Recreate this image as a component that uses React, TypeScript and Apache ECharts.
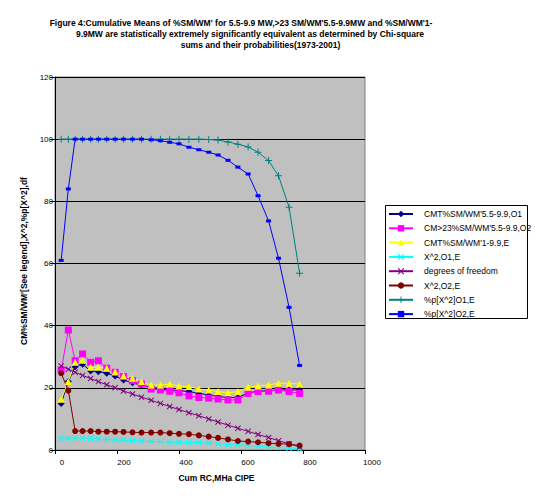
import React, { useEffect, useRef } from "react";
import * as echarts from "echarts";

// Cumulative RC (MHa CIPE) – shared x values
const cumRC = [20, 43, 65, 89, 115, 140, 167, 194, 221, 250, 279, 310, 340, 370, 400, 432, 464, 496, 526, 558, 590, 623, 655, 689, 721, 755, 789];

const cmt55O1 = [15.0, 22.0, 26.8, 27.6, 25.4, 25.2, 24.7, 23.8, 22.5, 21.6, 20.9, 20.1, 19.8, 19.3, 19.1, 18.8, 18.2, 17.7, 17.2, 16.9, 16.9, 18.4, 18.9, 19.1, 19.3, 19.3, 19.3];
const cm23O2 = [25.7, 38.6, 28.7, 30.9, 28.2, 28.7, 26.3, 25.0, 23.6, 22.3, 21.2, 19.6, 19.3, 18.9, 18.4, 17.4, 16.9, 16.7, 16.4, 16.1, 16.1, 18.2, 18.8, 18.9, 19.3, 18.8, 18.2];
const cmt1E = [16.3, 22.0, 28.2, 28.9, 26.6, 26.6, 26.3, 25.2, 23.9, 23.1, 22.0, 20.9, 20.9, 21.2, 20.6, 20.4, 19.6, 19.3, 18.8, 18.4, 18.8, 20.2, 20.6, 20.9, 21.5, 21.5, 21.2];
const chi2O1E = [3.8, 3.9, 3.9, 3.9, 3.8, 3.5, 3.4, 3.2, 3.2, 3.0, 2.9, 2.7, 2.7, 2.5, 2.5, 2.4, 2.4, 2.2, 2.0, 1.7, 1.7, 1.4, 1.3, 0.9, 0.8, 0.6, 0.3];
const degFreedom = [27, 26, 25, 24, 23, 22, 21, 20, 19, 18, 17, 16, 15, 14, 13, 12, 11, 10, 9, 8, 7, 6, 5, 4, 3, 2, 1];
const chi2O2E = [24.7, 19.1, 6.1, 6.1, 6.1, 5.9, 5.9, 5.9, 5.8, 5.7, 5.6, 5.6, 5.6, 5.4, 5.2, 5.1, 4.7, 4.3, 3.9, 3.4, 2.9, 2.7, 2.5, 2.2, 2.0, 1.9, 1.4];
const pChi2O1E = [100, 100, 100, 100, 100, 100, 100, 100, 100, 100, 100, 100, 100, 100, 100, 100, 100, 99.9, 99.7, 99.1, 98.4, 97.5, 95.8, 93.1, 88.2, 78.1, 56.9];
const pChi2O2E = [61, 84, 100, 100, 100, 100, 100, 100, 100, 100, 100, 99.8, 99.5, 99, 98.5, 97.4, 96.6, 95.8, 94.9, 93.2, 91, 88.8, 81.8, 73.7, 61.7, 45.9, 27.2];

const seriesNames = [
  "CMT%SM/WM'5.5-9.9,O1",
  "CM>23%SM/WM'5.5-9.9,O2",
  "CMT%SM/WM'1-9.9,E",
  "X^2,O1,E",
  "degrees of freedom",
  "X^2,O2,E",
  "%p[X^2]O1,E",
  "%p[X^2]O2,E",
];

const titleLines = [
  "Figure 4:Cumulative Means of %SM/WM' for 5.5-9.9 MW,>23 SM/WM'5.5-9.9MW and %SM/WM'1-",
  "9.9MW are statistically extremely significantly equivalent as determined by Chi-square",
  "sums and their probabilities(1973-2001)",
];
const xAxisTitle = "Cum RC,MHa CIPE";
const yAxisTitle = "CM%SM/WM'[See legend],X^2,%p[X^2],df";

const FONT = "'Liberation Sans', Arial, sans-serif";
const X_SYM = "path://M0,1.2L1.2,0L5,3.8L8.8,0L10,1.2L6.2,5L10,8.8L8.8,10L5,6.2L1.2,10L0,8.8L3.8,5Z";
const PLUS_SYM = "path://M4.3,0H5.7V4.3H10V5.7H5.7V10H4.3V5.7H0V4.3H4.3Z";

const seriesValues = [cmt55O1, cm23O2, cmt1E, chi2O1E, degFreedom, chi2O2E, pChi2O1E, pChi2O2E];
const seriesColors = ["#000080", "#FF00FF", "#FFFF00", "#00FFFF", "#800080", "#800000", "#008080", "#0000FF"];
const seriesSymbols: any[] = ["diamond", "rect", "triangle", X_SYM, X_SYM, "circle", PLUS_SYM, "rect"];
const seriesSizes: any[] = [7, 7, 7, 6, 6, 6, 7, [5, 3]];

export default function App() {
  const ref = useRef<HTMLDivElement>(null);
  useEffect(() => {
    if (!ref.current) return;
    const chart = echarts.init(ref.current, undefined, { renderer: "svg" });
    const series = seriesNames.map((name, i) => ({
      name,
      type: "line",
      data: cumRC.map((x, j) => [x, seriesValues[i][j]]),
      symbol: seriesSymbols[i],
      symbolSize: seriesSizes[i],
      showAllSymbol: true,
      lineStyle: { color: seriesColors[i], width: 1 },
      itemStyle: { color: seriesColors[i] },
      emphasis: { disabled: true },
    }));
    chart.setOption({
      animation: false,
      backgroundColor: "#ffffff",
      grid: {
        left: 55,
        top: 77,
        width: 310,
        height: 373,
        show: true,
        backgroundColor: "#C0C0C0",
        borderColor: "#808080",
        borderWidth: 1,
      },
      xAxis: {
        type: "value",
        min: 0,
        max: 1000,
        interval: 200,
        axisLine: { show: true, lineStyle: { color: "#000", width: 1 } },
        axisTick: { show: true, length: 4, lineStyle: { color: "#000" } },
        splitLine: { show: false },
        axisLabel: {
          fontSize: 8,
          fontFamily: FONT,
          color: "#000",
          margin: 8,
          padding: [0, 0, 0, 14],
          formatter: (v: number) => String(v),
        },
      },
      yAxis: {
        type: "value",
        min: 0,
        max: 120,
        interval: 20,
        axisLine: { show: true, lineStyle: { color: "#000", width: 1 } },
        axisTick: { show: true, length: 5, lineStyle: { color: "#000" } },
        splitLine: { show: true, lineStyle: { color: "#000", width: 1 } },
        axisLabel: { fontSize: 8, fontFamily: FONT, color: "#000", margin: 2, formatter: (v: number) => String(v) },
      },
      legend: {
        orient: "vertical",
        left: 388,
        top: 209,
        itemWidth: 24,
        itemHeight: 8,
        itemGap: 4.3,
        padding: 0,
        data: seriesNames,
        textStyle: { fontSize: 8.5, fontFamily: FONT, color: "#000", lineHeight: 10, padding: [0, 0, 0, 6] },
      },
      graphic: [
        {
          type: "rect",
          shape: { x: 385.5, y: 205.5, width: 142, height: 113 },
          style: { fill: "none", stroke: "#000", lineWidth: 1 },
          silent: true,
        },
        ...titleLines.map((t, i) => ({
          type: "text",
          x: [241, 250, 260.5][i],
          y: [22.7, 34, 45.3][i],
          style: {
            text: t,
            fill: "#000",
            font: `bold 8.5px ${FONT}`,
            textAlign: "center",
            textVerticalAlign: "middle",
          },
        })),
        {
          type: "text",
          x: 216.5,
          y: 478,
          style: {
            text: xAxisTitle,
            fill: "#000",
            font: `bold 8.5px ${FONT}`,
            textAlign: "center",
            textVerticalAlign: "middle",
          },
        },
        {
          type: "text",
          x: 23.5,
          y: 261,
          rotation: Math.PI / 2,
          style: {
            text: yAxisTitle,
            fill: "#000",
            font: `bold 8.5px ${FONT}`,
            textAlign: "center",
            textVerticalAlign: "middle",
          },
        },
      ],
      series,
    });
    return () => chart.dispose();
  }, []);
  return <div ref={ref} style={{ position: "fixed", left: 0, top: 0, width: 535, height: 498 }} />;
}
